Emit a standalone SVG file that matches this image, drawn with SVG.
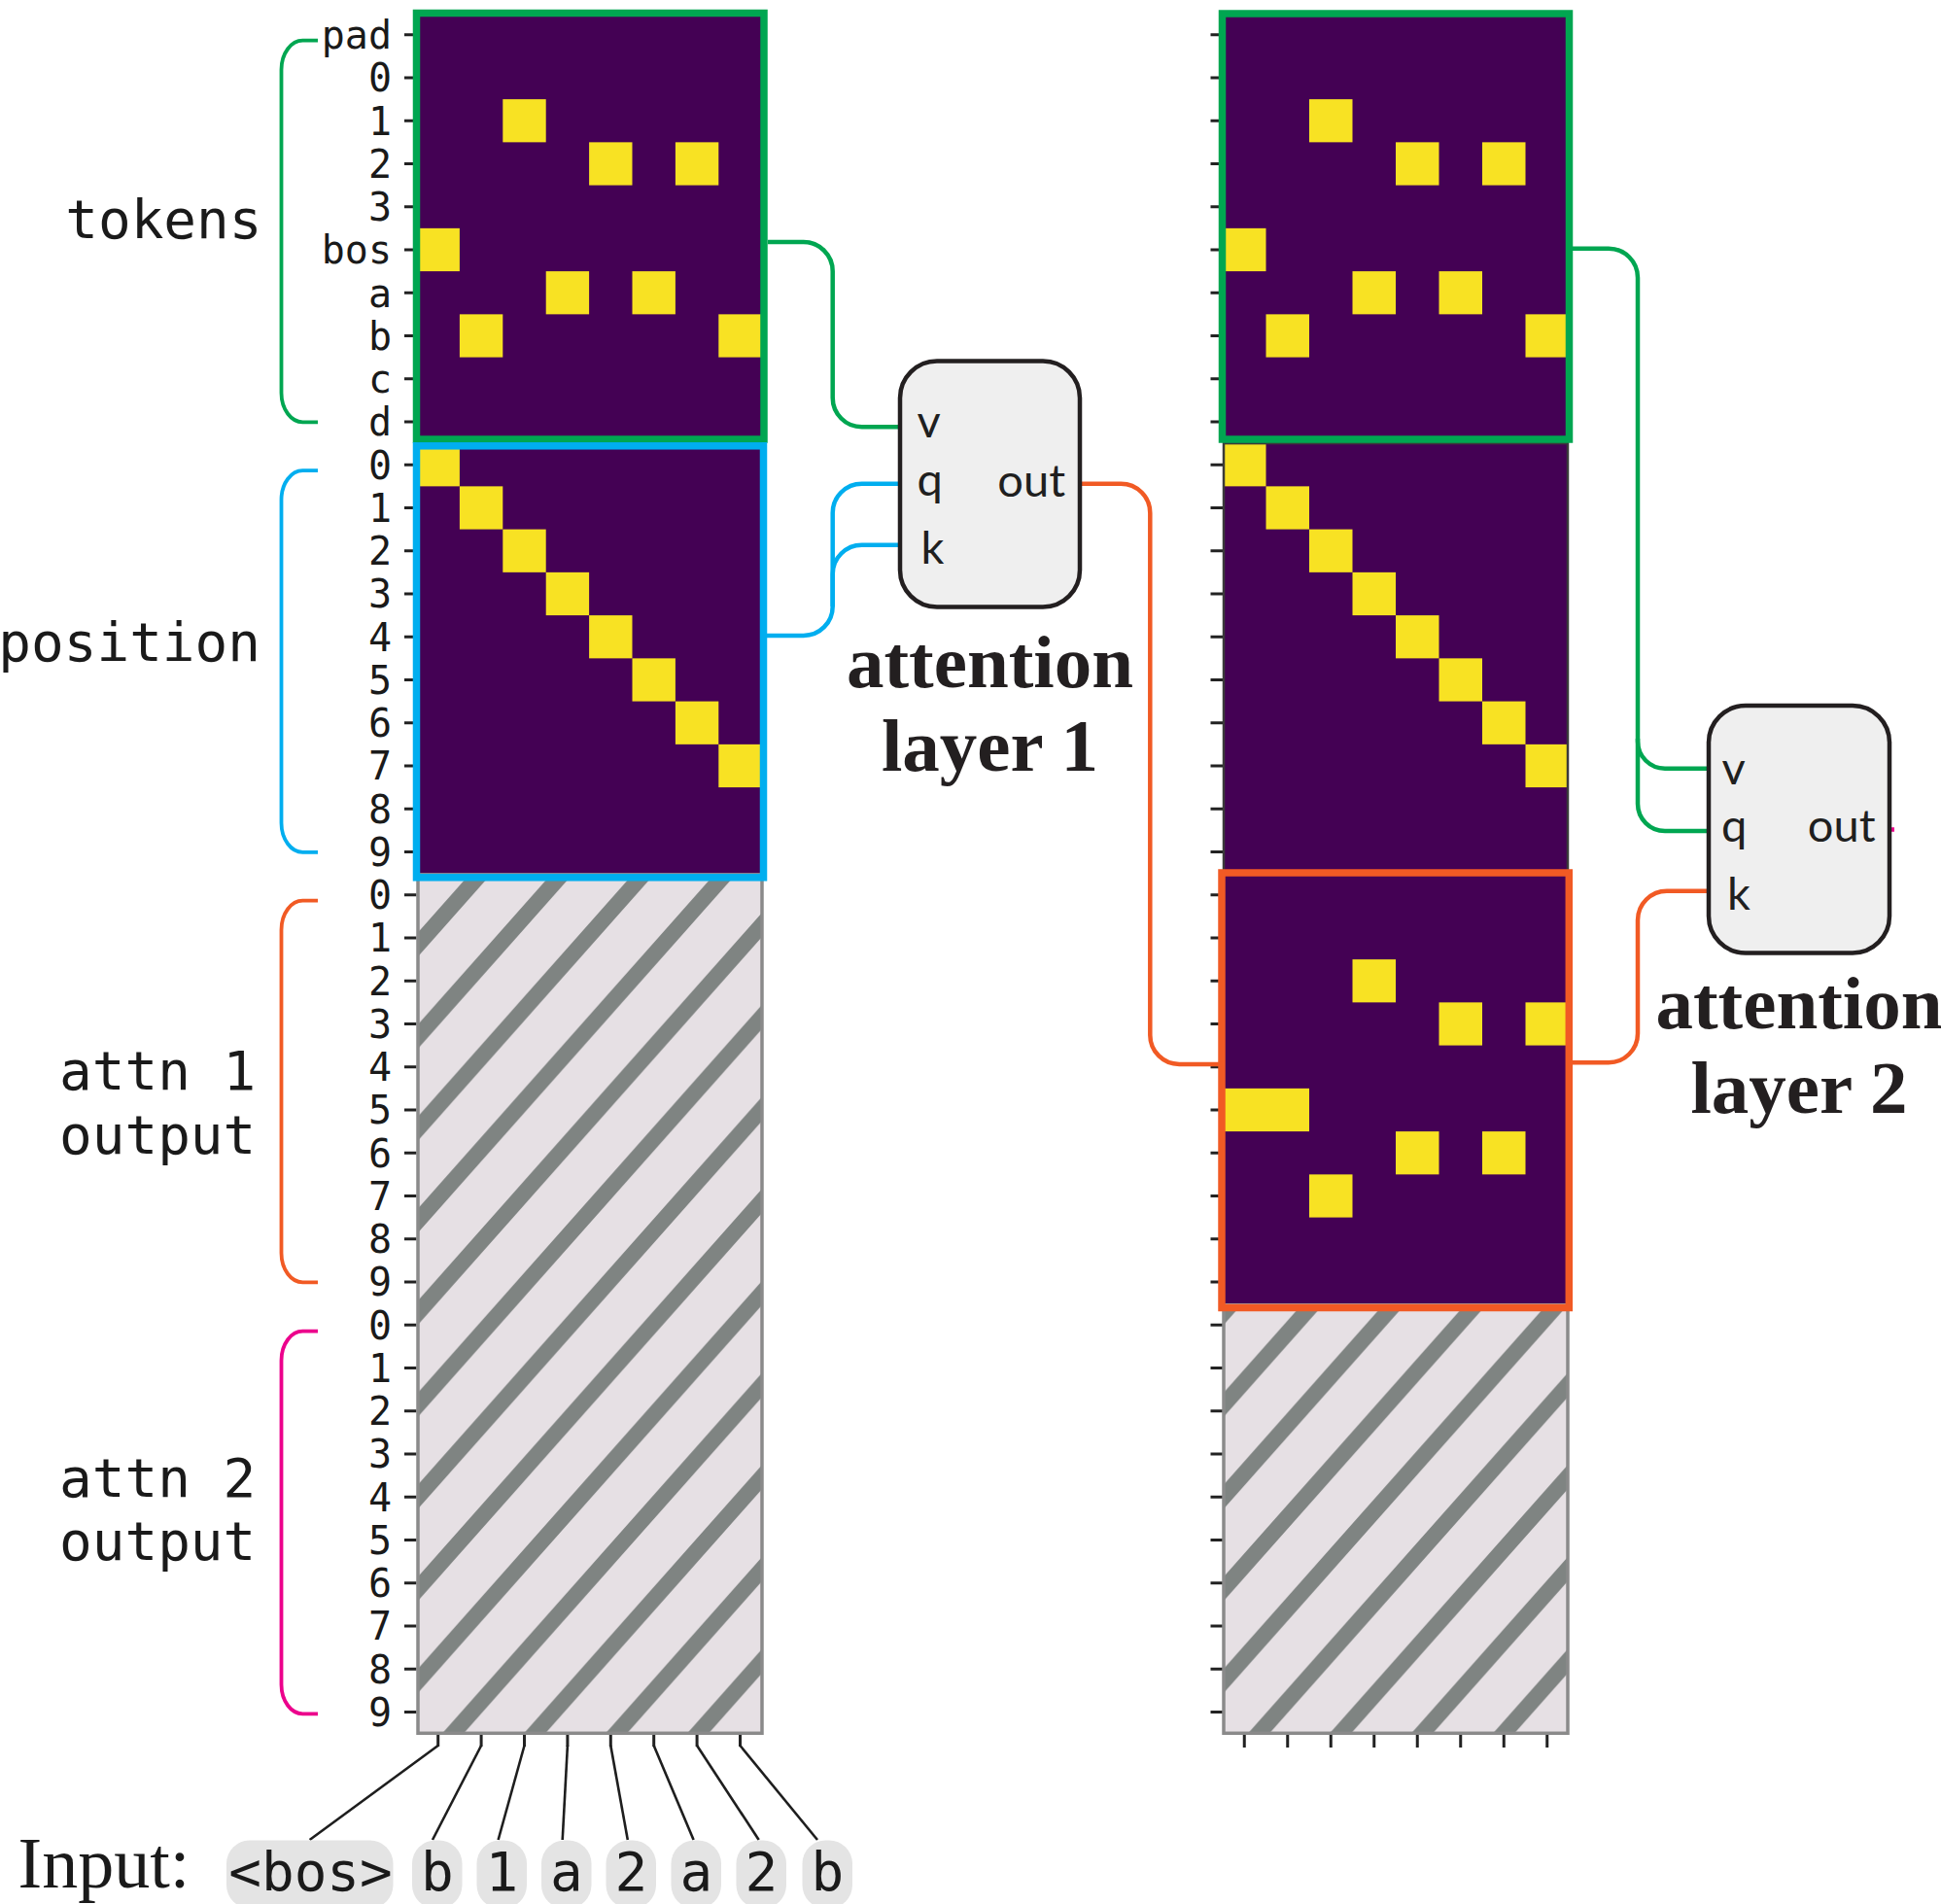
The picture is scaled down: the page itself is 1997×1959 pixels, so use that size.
<svg xmlns="http://www.w3.org/2000/svg" width="1997" height="1959" viewBox="0 0 1997 1959">
  <style>
    .bg { fill: #ffffff; }
    .cellbg { fill: #440154; }
    .on { fill: #f8e223; }
    .tick { stroke: #222222; stroke-width: 3; fill: none; }
    .tl { font-family: "DejaVu Sans Mono", monospace; font-size: 40px; fill: #1a1a1a; text-anchor: end; }
    .big { font-family: "DejaVu Sans Mono", monospace; font-size: 56px; fill: #1a1a1a; }
    .port { font-family: Lato, "Open Sans", sans-serif; font-size: 47px; fill: #1f1f1f; }
    .title { font-family: "Liberation Serif", serif; font-weight: bold; font-size: 77px; fill: #231f20; text-anchor: middle; }
    .box { fill: #efefef; stroke: #231f20; stroke-width: 4.5; }
    .frame { fill: none; stroke-width: 7.5; }
    .brace { fill: none; stroke-width: 3.8; }
    .wire { fill: none; stroke-width: 4.5; }
    .green { stroke: #00a651; }
    .blue { stroke: #00aeef; }
    .orange { stroke: #f15a24; }
    .magenta { stroke: #ec008c; }
    .pill { fill: #e4e4e4; }
    .tok { font-family: "DejaVu Sans Mono", monospace; font-size: 56px; fill: #1a1a1a; text-anchor: middle; }
    .input { font-family: "Liberation Serif", serif; font-size: 74px; fill: #1a1a1a; }
    .feed { stroke: #1e1e1e; stroke-width: 2.6; fill: none; }
    .unused { stroke: #8a8a8a; stroke-width: 3.5; }
  </style>
  <defs>
    <!-- diagonal hatch for the not-yet-written subspaces -->
    <pattern id="hatchL" patternUnits="userSpaceOnUse" x="32" y="0" width="84" height="94.7">
      <rect width="84" height="94.7" fill="#e6e0e4"/>
      <path d="M-42 47.35L42 -47.35M0 94.7L84 0M42 142.05L126 47.35" stroke="#7f8482" stroke-width="16.5"/>
    </pattern>
    <pattern id="hatchR" patternUnits="userSpaceOnUse" x="21" y="0" width="84" height="94.7">
      <rect width="84" height="94.7" fill="#e6e0e4"/>
      <path d="M-42 47.35L42 -47.35M0 94.7L84 0M42 142.05L126 47.35" stroke="#7f8482" stroke-width="16.5"/>
    </pattern>
  </defs>

  <rect class="bg" x="0" y="0" width="1997" height="1959"/>

  <!-- residual stream before layer 1 -->
  <g id="stream-in">
    <g class="tick">
      <path d="M416 35.7h12.5M416 80h12.5M416 124.2h12.5M416 168.5h12.5M416 212.7h12.5M416 257h12.5M416 301.2h12.5M416 345.5h12.5M416 389.7h12.5M416 434h12.5M416 478.2h12.5M416 522.5h12.5M416 566.7h12.5M416 611h12.5M416 655.2h12.5M416 699.5h12.5M416 743.7h12.5M416 788h12.5M416 832.2h12.5M416 876.5h12.5M416 920.7h12.5M416 965h12.5M416 1009.2h12.5M416 1053.5h12.5M416 1097.7h12.5M416 1142h12.5M416 1186.2h12.5M416 1230.5h12.5M416 1274.7h12.5M416 1319h12.5M416 1363.2h12.5M416 1407.5h12.5M416 1451.7h12.5M416 1496h12.5M416 1540.2h12.5M416 1584.5h12.5M416 1628.7h12.5M416 1673h12.5M416 1717.2h12.5M416 1761.5h12.5"/>
    </g>
    <rect class="cellbg" x="428.5" y="13.6" width="355.2" height="885"/>
    <!-- token one-hots -->
    <rect class="on" x="517.3" y="102.1" width="44.4" height="44.25"/>
    <rect class="on" x="606.1" y="146.35" width="44.4" height="44.25"/>
    <rect class="on" x="694.9" y="146.35" width="44.4" height="44.25"/>
    <rect class="on" x="428.5" y="234.85" width="44.4" height="44.25"/>
    <rect class="on" x="561.7" y="279.1" width="44.4" height="44.25"/>
    <rect class="on" x="650.5" y="279.1" width="44.4" height="44.25"/>
    <rect class="on" x="472.9" y="323.35" width="44.4" height="44.25"/>
    <rect class="on" x="739.3" y="323.35" width="44.4" height="44.25"/>
    <!-- position one-hots -->
    <rect class="on" x="428.5" y="456.1" width="44.4" height="44.25"/>
    <rect class="on" x="472.9" y="500.35" width="44.4" height="44.25"/>
    <rect class="on" x="517.3" y="544.6" width="44.4" height="44.25"/>
    <rect class="on" x="561.7" y="588.85" width="44.4" height="44.25"/>
    <rect class="on" x="606.1" y="633.1" width="44.4" height="44.25"/>
    <rect class="on" x="650.5" y="677.35" width="44.4" height="44.25"/>
    <rect class="on" x="694.9" y="721.6" width="44.4" height="44.25"/>
    <rect class="on" x="739.3" y="765.85" width="44.4" height="44.25"/>
    <!-- empty attention outputs -->
    <rect class="unused" x="430" y="900" width="354" height="883.3" fill="url(#hatchL)"/>
    <rect class="frame green" x="428.5" y="13.5" width="357.5" height="438.5"/>
    <rect class="frame blue" x="428.5" y="458.8" width="357" height="444"/>
    <!-- bottom ticks -->
    <g class="tick">
      <path d="M450.7 1785v12M495.1 1785v12M539.5 1785v12M583.9 1785v12M628.3 1785v12M672.7 1785v12M717.1 1785v12M761.5 1785v12"/>
    </g>
  </g>

  <!-- row labels -->
  <g id="row-labels">
    <text class="tl" x="403" y="50">pad</text>
    <text class="tl" x="403" y="94.3">0</text>
    <text class="tl" x="403" y="138.5">1</text>
    <text class="tl" x="403" y="182.8">2</text>
    <text class="tl" x="403" y="227">3</text>
    <text class="tl" x="403" y="271.3">bos</text>
    <text class="tl" x="403" y="315.5">a</text>
    <text class="tl" x="403" y="359.8">b</text>
    <text class="tl" x="403" y="404">c</text>
    <text class="tl" x="403" y="448.3">d</text>
    <text class="tl" x="403" y="492.5">0</text>
    <text class="tl" x="403" y="536.8">1</text>
    <text class="tl" x="403" y="581">2</text>
    <text class="tl" x="403" y="625.3">3</text>
    <text class="tl" x="403" y="669.5">4</text>
    <text class="tl" x="403" y="713.8">5</text>
    <text class="tl" x="403" y="758">6</text>
    <text class="tl" x="403" y="802.3">7</text>
    <text class="tl" x="403" y="846.5">8</text>
    <text class="tl" x="403" y="890.8">9</text>
    <text class="tl" x="403" y="935">0</text>
    <text class="tl" x="403" y="979.3">1</text>
    <text class="tl" x="403" y="1023.5">2</text>
    <text class="tl" x="403" y="1067.8">3</text>
    <text class="tl" x="403" y="1112">4</text>
    <text class="tl" x="403" y="1156.3">5</text>
    <text class="tl" x="403" y="1200.5">6</text>
    <text class="tl" x="403" y="1244.8">7</text>
    <text class="tl" x="403" y="1289">8</text>
    <text class="tl" x="403" y="1333.3">9</text>
    <text class="tl" x="403" y="1377.5">0</text>
    <text class="tl" x="403" y="1421.8">1</text>
    <text class="tl" x="403" y="1466">2</text>
    <text class="tl" x="403" y="1510.3">3</text>
    <text class="tl" x="403" y="1554.5">4</text>
    <text class="tl" x="403" y="1598.8">5</text>
    <text class="tl" x="403" y="1643">6</text>
    <text class="tl" x="403" y="1687.3">7</text>
    <text class="tl" x="403" y="1731.5">8</text>
    <text class="tl" x="403" y="1775.8">9</text>
  </g>

  <!-- subspace braces and names -->
  <g id="subspaces">
    <path class="brace green" d="M327 41.7H312A22 30 0 0 0 289.5 71.7V404.3A22 30 0 0 0 312 434.3H327"/>
    <path class="brace blue" d="M327 484.2H312A22 30 0 0 0 289.5 514.2V846.8A22 30 0 0 0 312 876.8H327"/>
    <path class="brace orange" d="M327 926.7H312A22 30 0 0 0 289.5 956.7V1289.3A22 30 0 0 0 312 1319.3H327"/>
    <path class="brace magenta" d="M327 1369.7H312A22 30 0 0 0 289.5 1399.7V1733.3A22 30 0 0 0 312 1763.3H327"/>
    <text class="big" x="269.5" y="245" text-anchor="end">tokens</text>
    <text class="big" x="268" y="680" text-anchor="end">position</text>
    <text class="big" x="61" y="1120.7">attn 1</text>
    <text class="big" x="61" y="1186.7">output</text>
    <text class="big" x="61" y="1540">attn 2</text>
    <text class="big" x="61" y="1605">output</text>
  </g>

  <!-- residual stream after layer 1 -->
  <g id="stream-mid">
    <g class="tick">
      <path d="M1245.5 35.7h12.5M1245.5 80h12.5M1245.5 124.2h12.5M1245.5 168.5h12.5M1245.5 212.7h12.5M1245.5 257h12.5M1245.5 301.2h12.5M1245.5 345.5h12.5M1245.5 389.7h12.5M1245.5 434h12.5M1245.5 478.2h12.5M1245.5 522.5h12.5M1245.5 566.7h12.5M1245.5 611h12.5M1245.5 655.2h12.5M1245.5 699.5h12.5M1245.5 743.7h12.5M1245.5 788h12.5M1245.5 832.2h12.5M1245.5 876.5h12.5M1245.5 920.7h12.5M1245.5 965h12.5M1245.5 1009.2h12.5M1245.5 1053.5h12.5M1245.5 1097.7h12.5M1245.5 1142h12.5M1245.5 1186.2h12.5M1245.5 1230.5h12.5M1245.5 1274.7h12.5M1245.5 1319h12.5M1245.5 1363.2h12.5M1245.5 1407.5h12.5M1245.5 1451.7h12.5M1245.5 1496h12.5M1245.5 1540.2h12.5M1245.5 1584.5h12.5M1245.5 1628.7h12.5M1245.5 1673h12.5M1245.5 1717.2h12.5M1245.5 1761.5h12.5"/>
    </g>
    <rect class="cellbg" x="1258" y="13.6" width="356" height="1327.5"/>
    <!-- token one-hots -->
    <rect class="on" x="1347" y="102.1" width="44.5" height="44.25"/>
    <rect class="on" x="1436" y="146.35" width="44.5" height="44.25"/>
    <rect class="on" x="1525" y="146.35" width="44.5" height="44.25"/>
    <rect class="on" x="1258" y="234.85" width="44.5" height="44.25"/>
    <rect class="on" x="1391.5" y="279.1" width="44.5" height="44.25"/>
    <rect class="on" x="1480.5" y="279.1" width="44.5" height="44.25"/>
    <rect class="on" x="1302.5" y="323.35" width="44.5" height="44.25"/>
    <rect class="on" x="1569.5" y="323.35" width="44.5" height="44.25"/>
    <!-- position one-hots -->
    <rect class="on" x="1258" y="456.1" width="44.5" height="44.25"/>
    <rect class="on" x="1302.5" y="500.35" width="44.5" height="44.25"/>
    <rect class="on" x="1347" y="544.6" width="44.5" height="44.25"/>
    <rect class="on" x="1391.5" y="588.85" width="44.5" height="44.25"/>
    <rect class="on" x="1436" y="633.1" width="44.5" height="44.25"/>
    <rect class="on" x="1480.5" y="677.35" width="44.5" height="44.25"/>
    <rect class="on" x="1525" y="721.6" width="44.5" height="44.25"/>
    <rect class="on" x="1569.5" y="765.85" width="44.5" height="44.25"/>
    <!-- layer 1 output: previous token -->
    <rect class="on" x="1391.5" y="987.1" width="44.5" height="44.25"/>
    <rect class="on" x="1480.5" y="1031.35" width="44.5" height="44.25"/>
    <rect class="on" x="1569.5" y="1031.35" width="44.5" height="44.25"/>
    <rect class="on" x="1258" y="1119.85" width="89" height="44.25"/>
    <rect class="on" x="1436" y="1164.1" width="44.5" height="44.25"/>
    <rect class="on" x="1525" y="1164.1" width="44.5" height="44.25"/>
    <rect class="on" x="1347" y="1208.35" width="44.5" height="44.25"/>
    <rect x="1259" y="456.1" width="354" height="442.5" fill="none" stroke="#3a3a3a" stroke-width="2.5"/>
    <rect class="unused" x="1259" y="1343" width="354" height="440.3" fill="url(#hatchR)"/>
    <rect class="frame green" x="1257.5" y="14" width="357" height="438"/>
    <rect class="frame orange" x="1257" y="898" width="357.3" height="447.5"/>
    <g class="tick">
      <path d="M1280.25 1785v13M1324.75 1785v13M1369.25 1785v13M1413.75 1785v13M1458.25 1785v13M1502.75 1785v13M1547.25 1785v13M1591.75 1785v13"/>
    </g>
  </g>

  <!-- wiring between the stream and the heads -->
  <g id="connectors">
    <path class="wire green" d="M790 249H826.7A30 30 0 0 1 856.7 279V409.3A30 30 0 0 0 886.7 439.3H926"/>
    <path class="wire blue" d="M786 654H826.7A30 30 0 0 0 856.7 624V527.7A30 30 0 0 1 886.7 497.7H926"/>
    <path class="wire blue" d="M856.7 624V590.7A30 30 0 0 1 886.7 560.7H926"/>
    <path class="wire orange" d="M1113 497.7H1153.3A30 30 0 0 1 1183.3 527.7V1065A30 30 0 0 0 1213.3 1095H1257"/>
    <path class="wire green" d="M1618 255.7H1655A30 30 0 0 1 1685 285.7V762.7A28 28 0 0 0 1713 790.7H1758"/>
    <path class="wire green" d="M1685 760V827A28 28 0 0 0 1713 855H1758"/>
    <path class="wire orange" d="M1618 1093.3H1655A30 30 0 0 0 1685 1063.3V946.7A30 30 0 0 1 1715 916.7H1758"/>
    <path class="wire magenta" d="M1945.5 853.5H1949"/>
    <!-- input tokens feeding the stream -->
    <path class="feed" d="M450.7 1796L318.6 1893"/>
    <path class="feed" d="M495.1 1796L445 1893"/>
    <path class="feed" d="M539.5 1796L512.6 1893"/>
    <path class="feed" d="M583.9 1796L578.7 1893"/>
    <path class="feed" d="M628.3 1796L645.8 1893"/>
    <path class="feed" d="M672.7 1796L713.6 1893"/>
    <path class="feed" d="M717.1 1796L780.7 1893"/>
    <path class="feed" d="M761.5 1796L841 1893"/>
  </g>

  <!-- attention layer 1 -->
  <g id="attn1">
    <rect class="box" x="926" y="371.5" width="185" height="253" rx="38"/>
    <text class="port" x="943.5" y="450">v</text>
    <text class="port" x="943.5" y="509.5">q</text>
    <text class="port" x="947.5" y="580">k</text>
    <text class="port" x="1096" y="510.5" text-anchor="end">out</text>
    <text class="title" x="1018.5" y="707.3">attention</text>
    <text class="title" x="1018.5" y="793.3">layer 1</text>
  </g>

  <!-- attention layer 2 -->
  <g id="attn2">
    <rect class="box" x="1758" y="726" width="186" height="254.5" rx="38"/>
    <text class="port" x="1771.5" y="807.3">v</text>
    <text class="port" x="1771" y="865.7">q</text>
    <text class="port" x="1777" y="936">k</text>
    <text class="port" x="1929.5" y="865.7" text-anchor="end">out</text>
    <text class="title" x="1851" y="1058.3">attention</text>
    <text class="title" x="1851" y="1145">layer 2</text>
  </g>

  <!-- input sequence -->
  <g id="input">
    <text class="input" x="18.5" y="1942">Input:</text>
    <rect class="pill" x="233" y="1893.5" width="171.5" height="70" rx="24"/>
    <rect class="pill" x="424" y="1893.5" width="51.5" height="70" rx="24"/>
    <rect class="pill" x="490.5" y="1893.5" width="51.5" height="70" rx="24"/>
    <rect class="pill" x="557" y="1893.5" width="51.5" height="70" rx="24"/>
    <rect class="pill" x="623.5" y="1893.5" width="51.5" height="70" rx="24"/>
    <rect class="pill" x="690.5" y="1893.5" width="51.5" height="70" rx="24"/>
    <rect class="pill" x="757.5" y="1893.5" width="51.5" height="70" rx="24"/>
    <rect class="pill" x="825.5" y="1893.5" width="51.5" height="70" rx="24"/>
    <text class="tok" x="319.5" y="1945">&lt;bos&gt;</text>
    <text class="tok" x="449.75" y="1945">b</text>
    <text class="tok" x="516.25" y="1945">1</text>
    <text class="tok" x="582.75" y="1945">a</text>
    <text class="tok" x="649.25" y="1945">2</text>
    <text class="tok" x="716.25" y="1945">a</text>
    <text class="tok" x="783.25" y="1945">2</text>
    <text class="tok" x="851.25" y="1945">b</text>
  </g>
</svg>
